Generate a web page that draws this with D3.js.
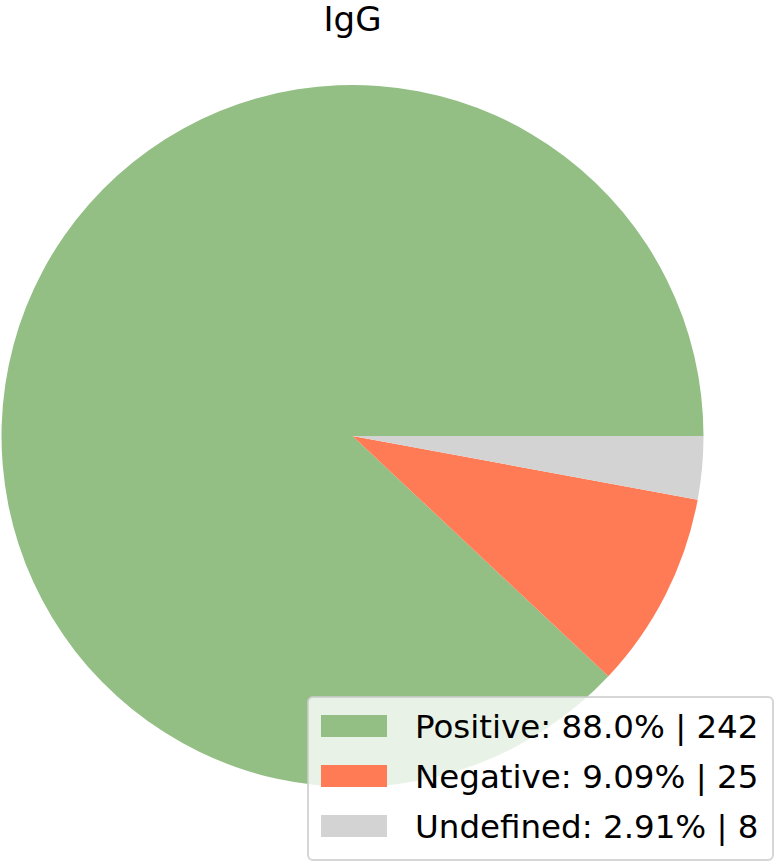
<!DOCTYPE html>
<html><head><meta charset="utf-8">
<script src="https://cdn.jsdelivr.net/npm/d3@7"></script>
<style>body{margin:0;background:#fff}svg{display:block}</style>
</head><body>
<svg id="chart" width="778" height="863"></svg>
<script>
const categories = ["Positive", "Negative", "Undefined"];
const counts = [242, 25, 8];
const percentLabels = ["88.0%", "9.09%", "2.91%"];
const colors = ["#93bf85", "#ff7b55", "#d3d3d3"];
const title = "IgG";

const svg = d3.select("#chart");
const cx = 352.5, cy = 436, r = 351;
const data = categories.map((c, i) => ({cat: c, value: counts[i], pct: percentLabels[i], color: colors[i]}));

const pie = d3.pie().sort(null).value(d => d.value)
  .startAngle(Math.PI / 2).endAngle(Math.PI / 2 - 2 * Math.PI);
const arc = d3.arc().innerRadius(0).outerRadius(r);

svg.append("g").attr("transform", `translate(${cx},${cy})`)
  .selectAll("path").data(pie(data)).join("path")
  .attr("d", arc).attr("fill", d => d.data.color);

svg.append("text").attr("x", cx).attr("y", 31).attr("text-anchor", "middle")
  .attr("font-family", "DejaVu Sans").attr("font-size", 34).attr("fill", "#000").text(title);

// legend
const lg = svg.append("g");
lg.append("rect").attr("x", 308).attr("y", 697).attr("width", 465).attr("height", 163)
  .attr("rx", 5).attr("fill", "rgba(255,255,255,0.8)")
  .attr("stroke", "rgba(204,204,204,0.8)").attr("stroke-width", 2);
const ly = d3.scaleBand().domain(categories).range([701, 851]);
const rows = lg.selectAll("g.row").data(data).join("g").attr("class", "row")
  .attr("transform", d => `translate(0,${ly(d.cat)})`);
rows.append("rect").attr("x", 321).attr("y", 14).attr("width", 66).attr("height", 22)
  .attr("fill", d => d.color);
rows.append("text").attr("x", 415).attr("y", 36.5)
  .attr("font-family", "DejaVu Sans").attr("font-size", 32.5).attr("fill", "#000")
  .text(d => `${d.cat}: ${d.pct} | ${d.value}`);
</script>
</body></html>
